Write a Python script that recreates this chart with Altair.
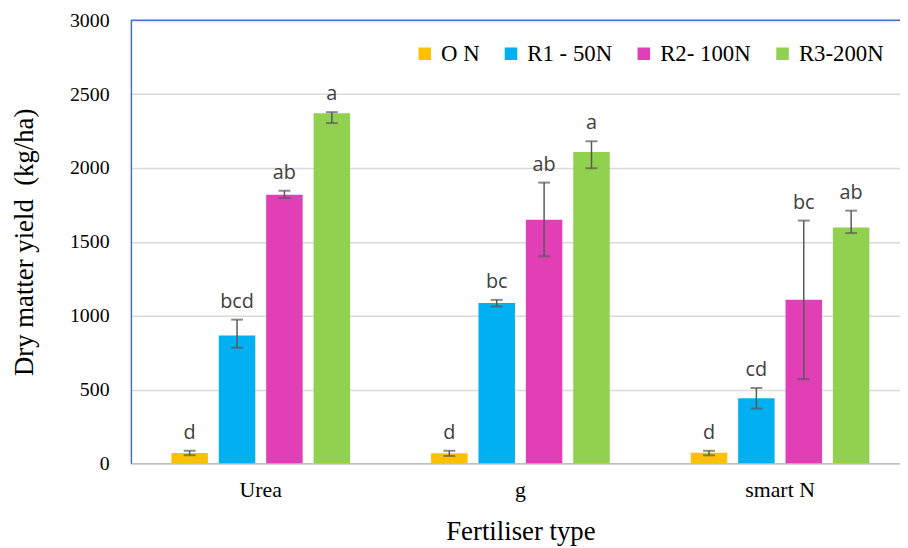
import altair as alt
import pandas as pd

fertilisers = ["Urea", "g", "smart N"]
rates = ["O N", "R1 - 50N", "R2- 100N", "R3-200N"]
colors = ["#FFC000", "#00B0F0", "#E03FB5", "#92D050"]

yield_urea = [70, 866, 1819, 2371]
yield_g = [68, 1085, 1649, 2109]
yield_smart = [72, 441, 1107, 1597]

low_urea = [55, 783, 1797, 2304]
high_urea = [85, 973, 1846, 2378]
low_g = [50, 1062, 1403, 1998]
high_g = [85, 1107, 1901, 2181]
low_smart = [54, 371, 570, 1559]
high_smart = [85, 510, 1644, 1711]

letters_urea = ["d", "bcd", "ab", "a"]
letters_g = ["d", "bc", "ab", "a"]
letters_smart = ["d", "cd", "bc", "ab"]

rows = []
for fert, ys, lo, hi, let in [
    ("Urea", yield_urea, low_urea, high_urea, letters_urea),
    ("g", yield_g, low_g, high_g, letters_g),
    ("smart N", yield_smart, low_smart, high_smart, letters_smart),
]:
    for i, r in enumerate(rates):
        rows.append({"fert": fert, "rate": r, "value": ys[i], "low": lo[i],
                     "high": hi[i], "letter": let[i]})
df = pd.DataFrame(rows)

serif = "Liberation Serif"
err_color = "#595959"
y_title = "Dry matter yield \u00a0(kg/ha)"

x_enc = alt.X("fert:N", sort=fertilisers,
              scale=alt.Scale(range=[0, 786], paddingInner=0.27, paddingOuter=0.135),
              axis=alt.Axis(title="Fertiliser type", labelFont=serif, labelFontSize=22,
                            labelColor="black", labelAngle=0, labelPadding=33,
                            labelBaseline="alphabetic", ticks=False, tickSize=0,
                            domainColor="#BFBFBF", domainWidth=1.5,
                            titleFont=serif, titleFontSize=27, titleFontWeight="normal",
                            titleColor="black", titleBaseline="alphabetic", titleY=77))
xo_enc = alt.XOffset("rate:N", sort=rates,
                     scale=alt.Scale(paddingInner=0.23, paddingOuter=0.115))

base = alt.Chart(df).encode(x=x_enc, xOffset=xo_enc)

yscale = alt.Scale(domain=[0, 3000], nice=False)

bars = base.mark_bar().encode(
    y=alt.Y("value:Q", scale=yscale, title=y_title,
            axis=alt.Axis(values=[0, 500, 1000, 1500, 2000, 2500, 3000], format="d",
                          labelFont=serif, labelFontSize=20, labelColor="black",
                          labelPadding=22, ticks=False, tickSize=0,
                          domainColor="#4472C4", domainWidth=1.5,
                          grid=True, gridColor="#D9D9D9", gridWidth=1.5,
                          titleFont=serif, titleFontSize=27, titleFontWeight="normal",
                          titleColor="black", titleX=-93)),
    color=alt.Color("rate:N", sort=rates,
                    scale=alt.Scale(domain=rates, range=colors),
                    legend=alt.Legend(title=None, orient="none", legendX=285, legendY=22,
                                      direction="horizontal", columns=4,
                                      symbolType="square", symbolSize=160,
                                      symbolStrokeWidth=0, labelFont=serif,
                                      labelFontSize=23, labelColor="black",
                                      labelFontWeight="normal",
                                      labelOffset=5, columnPadding=20, padding=0)),
)

rules = base.mark_rule(color=err_color, strokeWidth=1.5).encode(
    y=alt.Y("low:Q", scale=yscale, title=y_title), y2="high:Q")
caps_low = base.mark_tick(color=err_color, thickness=2, size=12).encode(
    y=alt.Y("low:Q", scale=yscale, title=y_title))
caps_high = base.mark_tick(color=err_color, thickness=2, size=12).encode(
    y=alt.Y("high:Q", scale=yscale, title=y_title))
labels = base.mark_text(font="Open Sans", fontSize=20, color="#404040",
                        baseline="alphabetic", dy=-12).encode(
    y=alt.Y("high:Q", scale=yscale, title=y_title), text="letter:N")

top_border = alt.Chart(pd.DataFrame({"k": [0]})).mark_rule(
    color="#4472C4", strokeWidth=1.5).encode(y=alt.value(0))

chart = alt.layer(bars, rules, caps_low, caps_high, labels, top_border).properties(
    width=776, height=447,
    autosize=alt.AutoSizeParams(type="none"),
    padding={"left": 124, "top": 10, "right": 0, "bottom": 83},
).configure_view(stroke=None).configure(background="white", font=serif).configure_axisY(
    labelFont=serif, labelFontSize=20, labelColor="black",
    labelPadding=22, ticks=False, tickSize=0,
    domainColor="#4472C4", domainWidth=1.5,
    grid=True, gridColor="#D9D9D9", gridWidth=1.5,
    titleFont=serif, titleFontSize=27, titleFontWeight="normal",
    titleColor="black", titleX=-93).configure_legend(labelFont=serif)

chart.save("out.html", embed_options={"renderer": "svg", "actions": False})
